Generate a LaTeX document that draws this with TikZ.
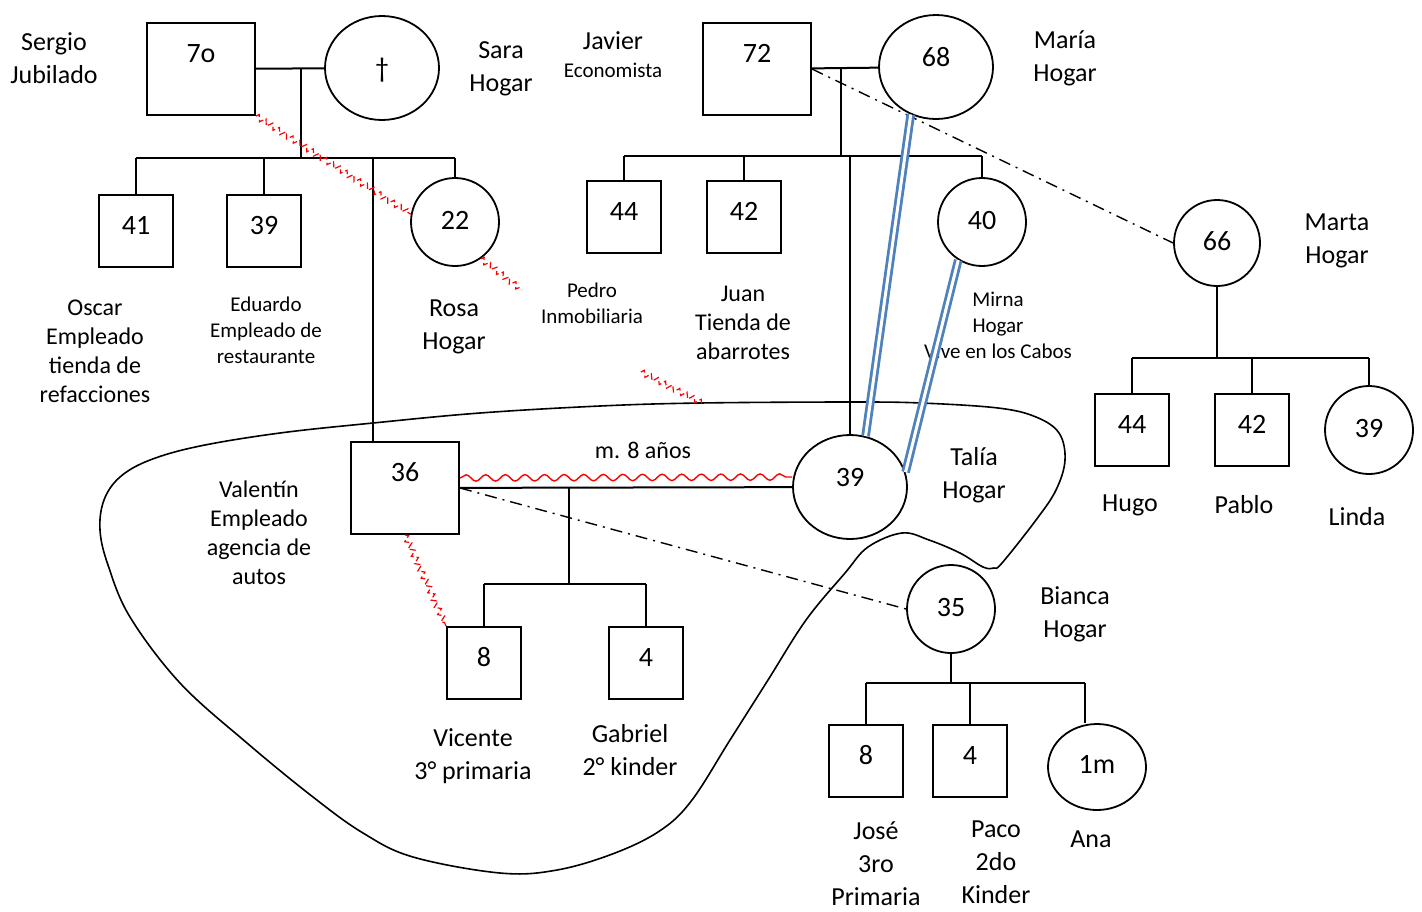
\documentclass[tikz,border=0pt]{standalone}
\usepackage{fontspec}
\setmainfont{Carlito}
\usetikzlibrary{shapes.geometric,decorations.pathmorphing}

\definecolor{fuseblue}{RGB}{79,129,189}

\tikzset{
  numfont/.style={font=\fontsize{14}{17}\selectfont, text height=9pt},
  bigbox/.style={draw, line width=1pt, minimum width=54pt, minimum height=46pt, inner sep=0pt, numfont, text depth=16pt},
  smallbox/.style={draw, line width=1pt, minimum width=37pt, minimum height=36pt, inner sep=0pt, numfont, text depth=6pt},
  woman/.style={draw, ellipse, line width=0.9pt, minimum width=57pt, minimum height=52pt, inner sep=0pt, numfont, text depth=10pt},
  girl/.style={woman, minimum width=44pt, minimum height=44pt, text depth=2pt},
  lbl/.style={align=center, inner sep=0pt, font=\fontsize{13}{16.5}\selectfont},
  lbm/.style={align=center, inner sep=0pt, font=\fontsize{12}{14.5}\selectfont},
  lbs/.style={align=center, inner sep=0pt, font=\fontsize{10.5}{13}\selectfont},
  distant/.style={line width=0.7pt, dash pattern=on 6pt off 3pt on 1pt off 3pt},
  fused/.style={draw=fuseblue, line width=1.4pt, double=white, double distance=1.5pt},
  hostile/.style={red, line width=0.6pt, dash pattern=on 3pt off 1.5pt, decorate, decoration={zigzag, segment length=4pt, amplitude=1.5pt}},
  wavy/.style={red, line width=0.7pt, decorate, decoration={snake, segment length=9.8pt, amplitude=1.6pt}}
}

\begin{document}
\begin{tikzpicture}[x=0.5pt, y=-0.5pt, line width=1pt]
        \useasboundingbox (0,0) rectangle (1422,911);

        % Household boundary
        \draw[line width=0.8pt] plot[smooth cycle, tension=0.6] coordinates {
            (150,460) (200,446) (280,433) (373,423) (480,413) (600,406) (700,403)
            (850,402) (921,403) (998,408) (1036,417) (1059,433) (1065,460)
            (1056,490) (1036,520) (1002,563) (994,568) (983,567) (960,553)
            (929,540) (902,533) (868,547) (845,573) (806,620) (768,680)
            (730,740) (692,800) (661,830) (615,853) (557,870) (500,873)
            (413,857) (363,833) (313,797) (247,743) (180,683) (130,617)
            (108,565) (100,530) (104,500) (120,477)};

        % Sergio and Sara
        \node[bigbox] (sergio) at (201,69) {7o};
        \node[woman, text depth=0pt] (sara) at (382,68) {\textdagger};
        \draw (sergio) -- (sara);
        \coordinate (m1) at (301,68);
        \coordinate (s1) at (301,158);

        \node[smallbox] (oscar) at (136,231) {41};
        \node[smallbox] (eduardo) at (264,231) {39};
        \node[girl] (rosa) at (455,222) {22};
        \node[bigbox] (valentin) at (405,488) {36};
        \coordinate (d36) at ([xshift=-16pt]valentin.north);

        \draw (m1) -- (s1);
        \draw (oscar.north |- s1) -- (rosa.north |- s1);
        \foreach \n in {oscar,eduardo,rosa}{
            \draw (\n.north |- s1) -- (\n.north);
        }
        \draw (d36 |- s1) -- (d36);

        % Javier and Maria
        \node[bigbox] (javier) at (757,69) {72};
        \node[woman] (maria) at (936,67) {68};
        \draw (javier) -- (maria);
        \coordinate (m2) at (841,68);
        \coordinate (s2) at (841,156);

        \node[smallbox] (pedro) at (624,217) {44};
        \node[smallbox] (juan) at (744,217) {42};
        \node[girl] (mirna) at (982,222) {40};
        \node[woman] (talia) at (850,487) {39};

        \draw (m2) -- (s2);
        \draw (pedro.north |- s2) -- (mirna.north |- s2);
        \foreach \n in {pedro,juan,talia,mirna}{
            \draw (\n.north |- s2) -- (\n.north);
        }

        % Marta
        \node[girl, minimum size=43pt] (marta) at (1217,243) {66};
        \coordinate (s3) at (1217,358);
        \node[smallbox] (hugo) at (1132,430) {44};
        \node[smallbox] (pablo) at (1252,430) {42};
        \node[girl] (linda) at (1369,430) {39};

        \draw (marta.south) -- (s3);
        \draw (hugo.north |- s3) -- (linda.north |- s3);
        \foreach \n in {hugo,pablo,linda}{
            \draw (\n.north |- s3) -- (\n.north);
        }

        % Valentin and Talia
        \draw (valentin) -- (talia);
        \coordinate (m4) at (569,488);
        \coordinate (s4) at (569,584);
        \node[smallbox] (vicente) at (484,663) {8};
        \node[smallbox] (gabriel) at (646,663) {4};

        \draw (m4) -- (s4);
        \draw (vicente.north |- s4) -- (gabriel.north |- s4);
        \foreach \n in {vicente,gabriel}{
            \draw (\n.north |- s4) -- (\n.north);
        }

        % Bianca
        \node[girl] (bianca) at (951,609) {35};
        \coordinate (s5) at (951,683);
        \node[smallbox] (jose) at (866,761) {8};
        \node[smallbox] (paco) at (970,761) {4};
        \node[woman, minimum width=49pt, minimum height=43pt, text depth=3pt] (ana) at (1097,767) {1m};
        \coordinate (dana) at ([xshift=-6pt]ana.north);

        \draw (bianca.south) -- (s5);
        \draw (jose.north |- s5) -- (dana |- s5);
        \foreach \n in {jose,paco,dana}{
            \draw (\n |- s5) -- (\n);
        }

        % Labels
        \node[lbl] (tsergio) at (54,58) {Sergio\\Jubilado};
        \node[lbl] (tsara) at (501,69) {Sara\\Hogar};
        \node[lbl] (tjavier) at (613,55) {Javier\\[-2.5pt]{\fontsize{10.5}{13}\selectfont Economista}};
        \node[lbl] (tmaria) at (1065,58) {María\\Hogar};
        \node[lbl] (tmarta) at (1337,241) {Marta\\Hogar};
        \node[lbm] (toscar) at (95,351) {Oscar\\Empleado\\tienda de\\refacciones};
        \node[lbs] (teduardo) at (266,330) {Eduardo\\Empleado de\\restaurante};
        \node[lbl] (trosa) at (454,327) {Rosa\\Hogar};
        \node[lbs] (tpedro) at (592,303) {Pedro\\Inmobiliaria};
        \node[lbm] (tjuan) at (743,323) {Juan\\Tienda de\\abarrotes};
        \node[lbs] (tmirna) at (998,325) {Mirna\\Hogar\\Vive en los Cabos};
        \node[lbl] (ttalia) at (974,475) {Talía\\Hogar};
        \node[lbm] (tvalentin) at (259,533) {Valentín\\Empleado\\agencia de\\autos};
        \node[lbm] (tboda) at (643,450) {m. 8 años};
        \node[lbl] (thugo) at (1130,505) {Hugo};
        \node[lbl] (tpablo) at (1244,505) {Pablo};
        \node[lbl] (tlinda) at (1357,517) {Linda};
        \node[lbl] (tvicente) at (473,756) {Vicente\\3° primaria};
        \node[lbl] (tgabriel) at (630,750) {Gabriel\\2° kinder};
        \node[lbl] (tbianca) at (1075,614) {Bianca\\Hogar};
        \node[lbl] (tjose) at (876,864) {José\\3ro\\Primaria};
        \node[lbl] (tpaco) at (996,862) {Paco\\2do\\Kinder};
        \node[lbl] (tana) at (1091,839) {Ana};

        % Relationship lines
        \draw[distant] (javier.east) -- (marta.west);
        \draw[distant] (valentin.east) -- (bianca.west);
        \draw[wavy] ([yshift=5pt]valentin.east) -- ([yshift=5pt]talia.west);
        \draw[fused] (maria.-118) -- (talia.73);
        \draw[fused] (mirna.-122) -- (talia.15);

        \coordinate (h1) at (522,290);
        \coordinate (h2) at (641,372);
        \coordinate (h3) at (702,403);
        \draw[hostile] (sergio.south east) -- (rosa.170);
        \draw[hostile] (rosa.-55) -- (h1);
        \draw[hostile] (h2) -- (h3);
        \draw[hostile] (valentin.south) -- (vicente.north west);

    \end{tikzpicture}
\end{document}
